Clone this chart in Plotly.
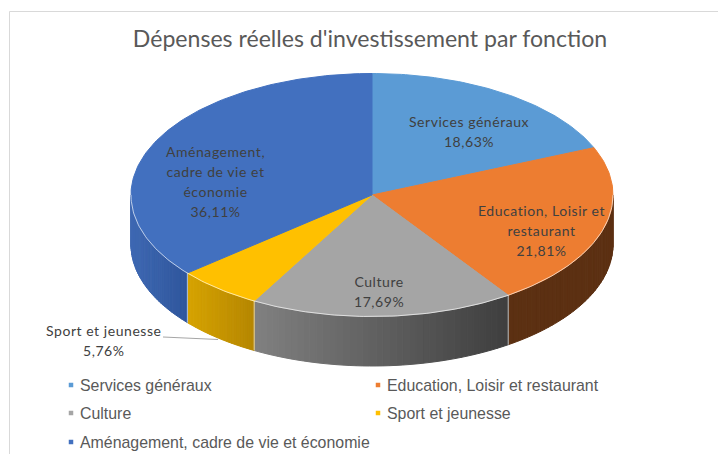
import math
import plotly.graph_objects as go

# ---------- data ----------
categories = ["Services généraux", "Education, Loisir et restaurant", "Culture",
              "Sport et jeunesse", "Aménagement, cadre de vie et économie"]
shares = [18.63, 21.81, 17.69, 5.76, 36.11]
label_lines = [["Services généraux"], ["Education, Loisir et", "restaurant"], ["Culture"],
               ["Sport et jeunesse"], ["Aménagement,", "cadre de vie et", "économie"]]
title_text = "Dépenses réelles d'investissement par fonction"

# ---------- styles / layout ----------
W, H = 718, 454
CX, CY, RX, RY, DEPTH = 372, 195, 241, 121.5, 49.5
top_colors = ["#5B9BD5", "#ED7D31", "#A5A5A5", "#FFC000", "#4270BF"]
wall_colors = [None, ("#5C3012", "#5C3012"), ("#808080", "#3E3E3E"),
               ("#D6A300", "#B58600"), ("#3E68B2", "#2F569C")]
SEAM = "rgba(255,255,255,0.65)"
label_pos = [(469, 131.5), (541, 230), (379, 291), (103.5, 340.5), (215, 181)]
legend_pos = [(71, 385), (378, 385), (71, 413), (378, 413), (71, 442)]
TXT = "#404040"; GREY = "#595959"


def pt(deg, drop=0.0):
    r = math.radians(deg)
    return CX + RX * math.sin(r), CY - RY * math.cos(r) + drop


def arc(a0, a1, drop=0.0, step=1.0):
    n = max(2, int(abs(a1 - a0) / step) + 1)
    return [pt(a0 + (a1 - a0) * i / (n - 1), drop) for i in range(n)]


def mix(c0, c1, t):
    a = [int(c0[i:i + 2], 16) for i in (1, 3, 5)]
    b = [int(c1[i:i + 2], 16) for i in (1, 3, 5)]
    return "#%02x%02x%02x" % tuple(round(x + (y - x) * t) for x, y in zip(a, b))


def poly(points, color):
    xs, ys = zip(*points)
    return go.Scatter(x=list(xs) + [xs[0]], y=list(ys) + [ys[0]], mode="lines", fill="toself",
                      fillcolor=color, line=dict(color=color, width=1), hoverinfo="skip",
                      showlegend=False)


def stroke(points, color=SEAM, width=1):
    xs, ys = zip(*points)
    return go.Scatter(x=xs, y=ys, mode="lines", line=dict(color=color, width=width),
                      hoverinfo="skip", showlegend=False)


total = sum(shares)
edges = [0.0]
for s in shares:
    edges.append(edges[-1] + s / total * 360)

fig = go.Figure()

# side walls (front half only), shaded left to right
for i, cols in enumerate(wall_colors):
    if cols is None:
        continue
    a0, a1 = max(edges[i], 90), min(edges[i + 1], 270)
    if a1 <= a0:
        continue
    x_hi, x_lo = pt(a0)[0], pt(a1)[0]
    n = 40
    for k in range(n):
        s0, s1 = a0 + (a1 - a0) * k / n, a0 + (a1 - a0) * (k + 1) / n
        xm = pt((s0 + s1) / 2)[0]
        t = (xm - x_lo) / (x_hi - x_lo)
        fig.add_trace(poly(arc(s0, s1) + arc(s1, s0, DEPTH), mix(cols[0], cols[1], t)))

# top wedges
for i, c in enumerate(top_colors):
    fig.add_trace(poly([(CX, CY)] + arc(edges[i], edges[i + 1]), c))

# light seams along wall top and between wall pieces
fig.add_trace(stroke(arc(90, 270)))
for e in edges:
    if 90 < e < 270:
        fig.add_trace(stroke([pt(e), pt(e, DEPTH)]))

# leader line of the outside label
fig.add_trace(stroke([(163, 337), (218, 339.5)], color="#A6A6A6"))

annotations = []
for i in range(len(categories)):
    sty = "font-size:14px;letter-spacing:0.55px"
    txt = "<br>".join(f'<span style="{sty}">{l}</span>' for l in label_lines[i])
    pct = f"{shares[i]:.2f}".replace(".", ",") + "%"
    txt += f'<br><span style="{sty}">{pct}</span>'
    annotations.append(dict(x=label_pos[i][0], y=label_pos[i][1], xref="x", yref="y", text=txt,
                            showarrow=False, align="center", xanchor="center", yanchor="middle",
                            font=dict(family="Lato", size=15.4, color=TXT)))

# legend: small square keys with their names
for i, name in enumerate(categories):
    x, y = legend_pos[i]
    fig.add_trace(go.Scatter(x=[x], y=[y], mode="markers", name=name, showlegend=False,
                             hoverinfo="skip",
                             marker=dict(symbol="square", size=4.5, color=top_colors[i])))
    annotations.append(dict(x=x + 6.5, y=y, xref="x", yref="y", text=name, showarrow=False,
                            xanchor="left", yanchor="middle", align="left",
                            font=dict(family="Liberation Sans", size=15.9, color=GREY)))

fig.update_layout(
    width=W, height=H, margin=dict(l=0, r=0, t=0, b=0),
    paper_bgcolor="white", plot_bgcolor="white", showlegend=False,
    title=dict(text=title_text, x=370 / W, xanchor="center", y=1 - 39 / H, yanchor="middle",
               font=dict(family="Lato", size=23.1, color=GREY)),
    xaxis=dict(range=[0, W], visible=False, fixedrange=True),
    yaxis=dict(range=[H, 0], visible=False, fixedrange=True),
    annotations=annotations,
    shapes=[dict(type="line", xref="x", yref="y", x0=9.5, y0=11.5, x1=9.5, y1=H,
                 line=dict(color="#D9D9D9", width=1)),
            dict(type="line", xref="x", yref="y", x0=9.5, y0=11.5, x1=W, y1=11.5,
                 line=dict(color="#D9D9D9", width=1))],
)
fig.write_html("out.html", config=dict(displayModeBar=False, responsive=False),
               post_script="document.body.style.margin='0';document.documentElement.style.overflow='hidden';")
